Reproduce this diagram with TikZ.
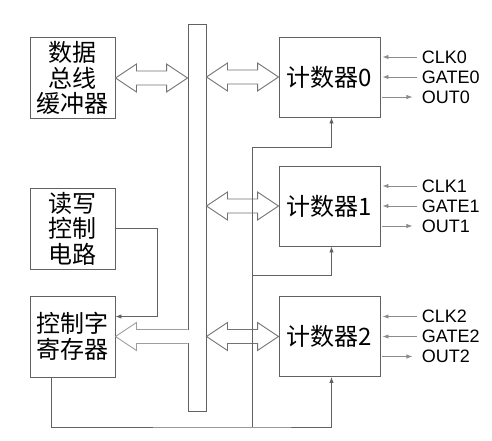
\documentclass[tikz,border=0pt]{standalone}
\usepackage{fontspec}
\setmainfont{Liberation Sans}
\newfontfamily\cjk{Noto Sans CJK SC}
\usetikzlibrary{arrows.meta, calc}

\tikzset{
    box/.style={draw=black!62, line width=0.9pt, minimum width=85pt, minimum height=81pt,
        inner sep=0pt, align=center, font=\cjk\fontsize{24}{25.5}\selectfont, text=black},
    cbox/.style={box, minimum width=101pt, minimum height=80pt},
    busbar/.style={draw=black!62, line width=0.9pt, minimum width=18pt, minimum height=387pt, inner sep=0pt},
    hollow/.style={draw=black!55, line width=0.9pt, fill=white, line join=miter},
    ctl/.style={draw=black!62, line width=0.9pt, -{Latex[length=6pt,width=4.5pt]}},
    sig/.style={draw=black!45, line width=0.9pt},
    siglabel/.style={right, inner sep=4pt, font=\fontsize{18}{20}\selectfont, text=black}
}

\begin{document}
\begin{tikzpicture}[x=1pt, y=-1pt, >={Latex[length=6pt,width=4.5pt]}]

\useasboundingbox (0,0) rectangle (492,441);

% Left column
\node[box] (buf) at (72.5,78) {数据\\总线\\缓冲器};
\node[box] (rw)  at (72.5,228.5) {读写\\控制\\电路};
\node[box] (cwr) at (72.5,336.5) {控制字\\寄存器};

% Internal bus
\node[busbar] (bus) at (197,217.5) {};

% Counters
\node[cbox] (cnt0) at (329.5,77) {计数器0};
\node[cbox] (cnt1) at (329.5,206) {计数器1};
\node[cbox] (cnt2) at (329.5,336.5) {计数器2};

% Buffer <=> bus
\draw[hollow] (buf.east) -- ++(21,-14) -- ++(0,7) -- ($(bus.west |- buf.east)+(-21,-7)$) -- ++(0,-7)
    -- (bus.west |- buf.east) -- ++(-21,14) -- ++(0,-7) -- ($(buf.east)+(21,7)$) -- ++(0,7) -- cycle;

% Bus <=> counters
\foreach \c in {cnt0,cnt1,cnt2} {
    \draw[hollow] (bus.east |- \c.west) -- ++(21,-14) -- ++(0,7) -- ($(\c.west)+(-21,-7)$) -- ++(0,-7)
        -- (\c.west) -- ++(-21,14) -- ++(0,-7) -- ($(bus.east |- \c.west)+(21,7)$) -- ++(0,7) -- cycle;
}

% Bus => control word register
\fill[white] ($(bus.west |- cwr.east)+(-1,-6.5)$) rectangle ($(bus.west |- cwr.east)+(1.5,6.5)$);
\draw[hollow, draw=black!38] ($(bus.west |- cwr.east)+(0,-7)$) -- ($(cwr.east)+(21,-7)$) -- ++(0,-7)
    -- (cwr.east) -- ++(21,14) -- ++(0,-7) -- ($(bus.west |- cwr.east)+(0,7)$);

% Read/write control => control word register
\draw[ctl] (rw.east) -- ++(42,0) |- ($(cwr.east)+(0,-20)$);

% Control word register => counters
\coordinate (vb) at (252,427);
\coordinate (vm) at (252,275);
\coordinate (vt) at (252,147);
\draw[ctl] ($(cwr.south west)+(22,0)$) |- (vb) -| ($(cnt2.south)+(2,0)$);
\draw[ctl] (vb) -- (vt) -| ($(cnt0.south)+(2,0)$);
\draw[ctl] (vm) -| ($(cnt1.south)+(2,0)$);

% Counter signals
\foreach \n in {0,1,2} {
    \draw[sig, <-] ($(cnt\n.east)+(2,-20)$) -- ++(35,0) node[siglabel] {CLK\n};
    \draw[sig, <-] ($(cnt\n.east)+(2,0)$) -- ++(35,0) node[siglabel] {GATE\n};
    \draw[sig, ->] ($(cnt\n.east)+(2,20)$) -- ++(30,0) node[siglabel, xshift=5pt] {OUT\n};
}

\end{tikzpicture}
\end{document}
